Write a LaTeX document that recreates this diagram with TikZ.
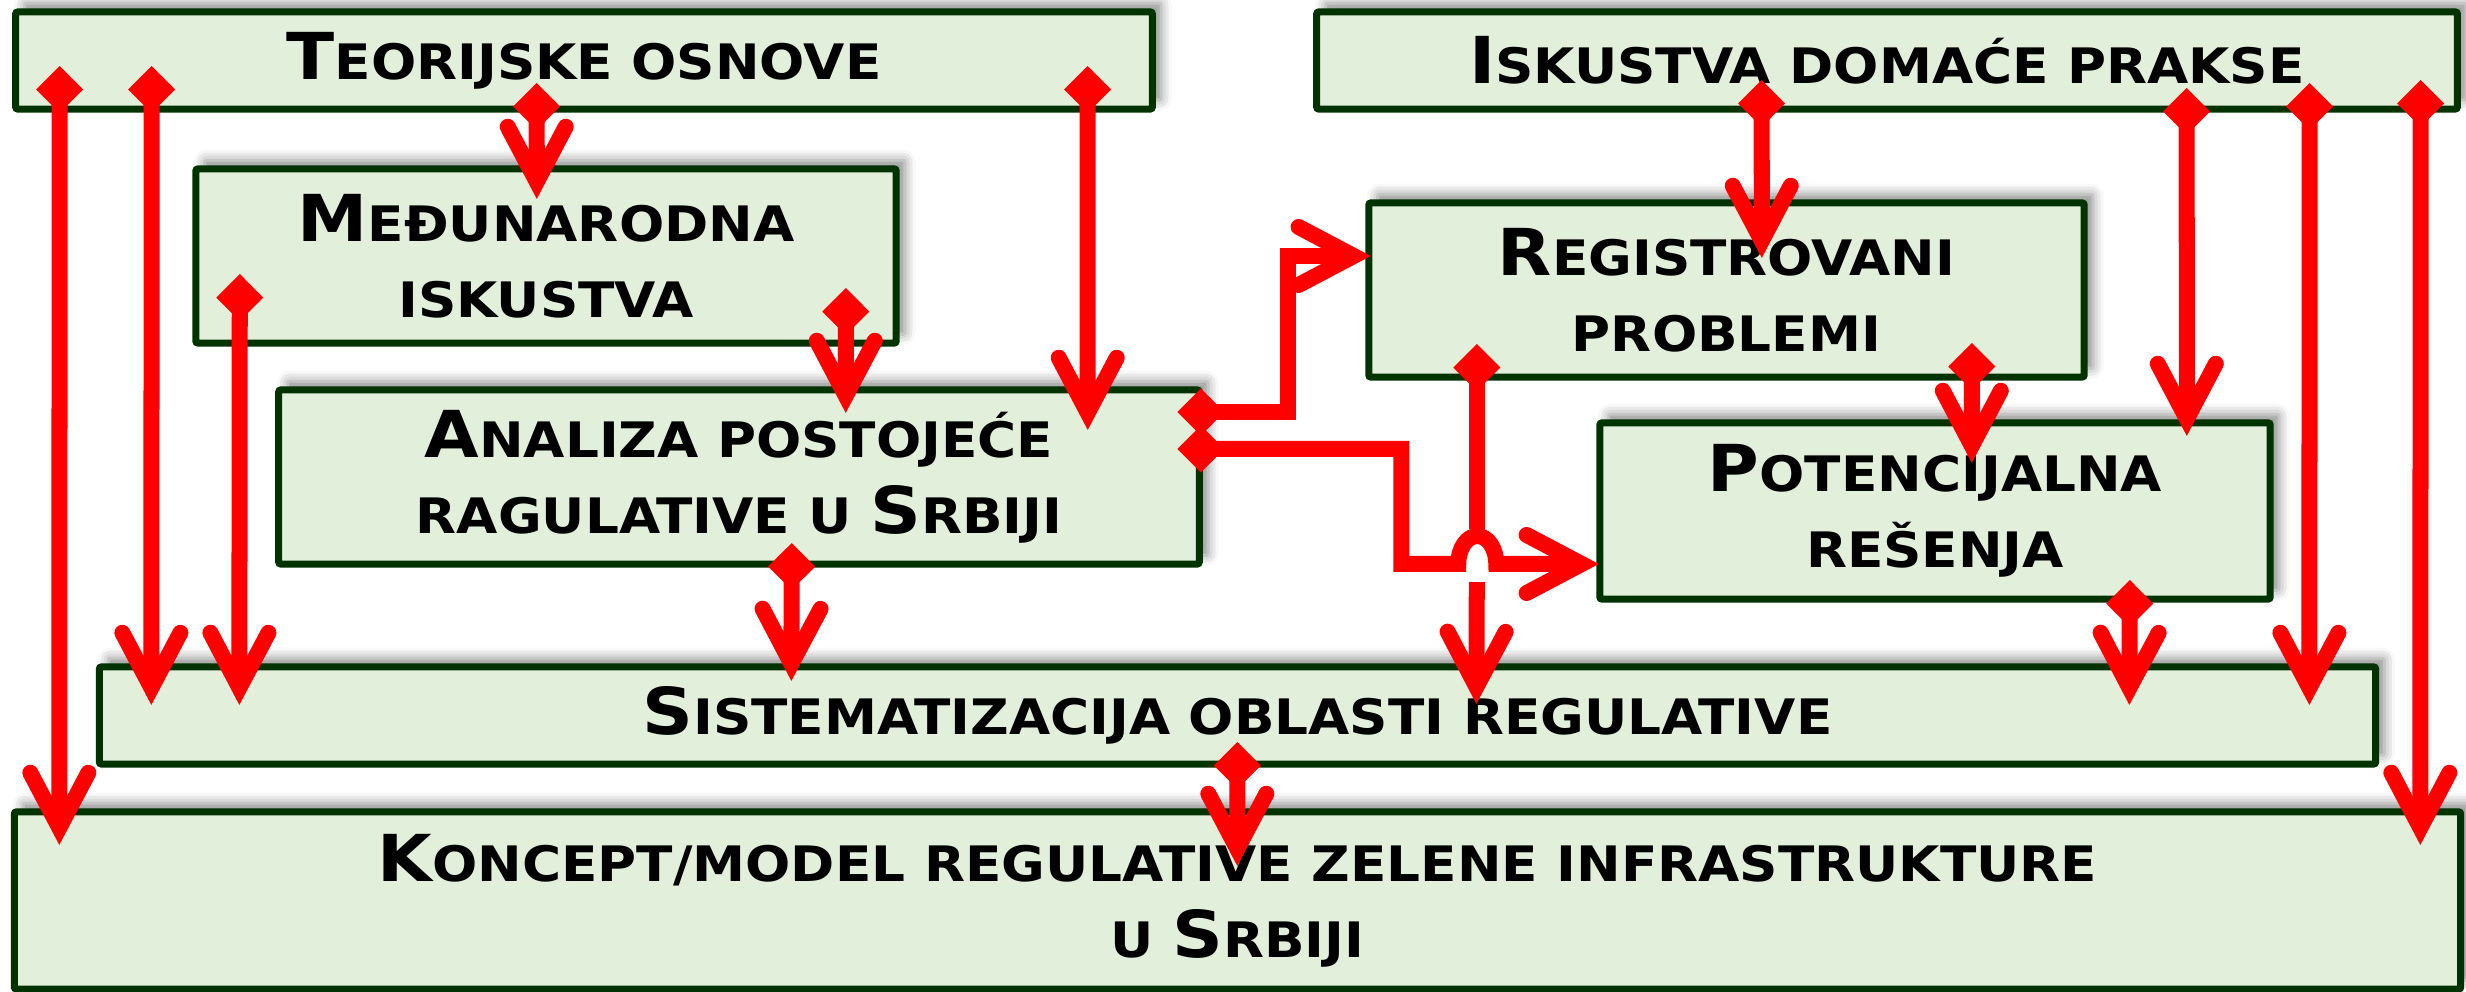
\documentclass[tikz,border=0pt]{standalone}
\usepackage{fontspec}
\newfontfamily\dvs{DejaVu Sans}[FakeStretch=1.09]
\usetikzlibrary{arrows.meta,calc,shadows.blur}
\definecolor{boxfill}{HTML}{E2EFDA}
\definecolor{boxline}{HTML}{003300}
\definecolor{conred}{HTML}{FF0000}
\newcommand\Bc[1]{{\fontsize{18.4pt}{21.6pt}\selectfont #1}}
\begin{document}
\begin{tikzpicture}[x=0.01cm, y=-0.01cm,
  box/.style={draw=boxline, fill=boxfill, line width=0.07cm, rounded corners=0.02cm,
    outer sep=0pt, inner sep=0pt, align=center,
    font=\dvs\bfseries\fontsize{13.9pt}{21.6pt}\selectfont,
    blur shadow={shadow xshift=2.5pt, shadow yshift=2.5pt, shadow blur radius=3pt, shadow opacity=45}},
  line/.style={draw=conred, line width=0.16cm},
  conn/.style={line,
    arrows={Diamond[length=0.47cm,width=0.47cm]-Straight Barb[length=0.55cm,width=0.58cm,line join=miter,line cap=round]}},
  connstart/.style={line, arrows={Diamond[length=0.47cm,width=0.47cm]-}},
  connend/.style={line, arrows={-Straight Barb[length=0.55cm,width=0.58cm,line join=miter,line cap=round]}}]
\useasboundingbox (0,0) rectangle (2466,992);
% boxes
\node[box, minimum width=11.36cm, minimum height=0.97cm] (A) at (584,60.5) {\Bc{T}EORIJSKE OSNOVE};
\node[box, minimum width=11.40cm, minimum height=0.97cm] (B) at (1887,60.5) {\Bc{I}SKUSTVA DOMAĆE PRAKSE};
\node[box, minimum width=7.00cm, minimum height=1.74cm] (C) at (546,256) {\Bc{M}EĐUNARODNA\\ISKUSTVA};
\node[box, minimum width=7.15cm, minimum height=1.74cm] (D) at (1726.5,290) {\Bc{R}EGISTROVANI\\PROBLEMI};
\node[box, minimum width=9.20cm, minimum height=1.74cm] (E) at (739,477) {\Bc{A}NALIZA POSTOJEĆE\\RAGULATIVE U \Bc{S}RBIJI};
\node[box, minimum width=6.70cm, minimum height=1.76cm] (F) at (1935,511) {\Bc{P}OTENCIJALNA\\REŠENJA};
\node[box, minimum width=22.75cm, minimum height=0.97cm] (G) at (1237.5,715.5) {\Bc{S}ISTEMATIZACIJA OBLASTI REGULATIVE};
\node[box, minimum width=24.45cm, minimum height=1.77cm] (H) at (1237.5,900.5) {\Bc{K}ONCEPT/MODEL REGULATIVE ZELENE INFRASTRUKTURE\\U \Bc{S}RBIJI};
% connectors
\draw[conn] ($(A.south west)+(44,-43)$) -- ($(H.north west)+(45,33)$);
\draw[conn] ($(A.south west)+(136,-43)$) -- ($(G.north west)+(52,38)$);
\draw[conn] ($(A.south west)+(1072,-43)$) -- ($(E.north west)+(809,40)$);
\draw[conn] ($(A.south west)+(521,-26)$) -- ($(C.north west)+(341,30)$);
\draw[conn] ($(C.south west)+(44,-69)$) -- ($(G.north west)+(140,38)$);
\draw[conn] ($(C.south west)+(650,-55)$) -- ($(E.north west)+(567,23)$);
\draw[conn] ($(B.south west)+(445,-29)$) -- ($(D.north west)+(393,55)$);
\draw[conn] ($(B.south west)+(870,-21)$) -- ($(F.north west)+(587,13)$);
\draw[conn] ($(B.south west)+(993,-26)$) -- ($(G.north west)+(2210,38)$);
\draw[conn] ($(B.south west)+(1104,-29)$) -- ($(H.north west)+(2406,33)$);
% D -> G, broken where the line jump passes
\draw[connstart] ($(D.south west)+(108,-33)$) -- ++(0,185) coordinate (jtop);
\draw[connend] ($(jtop)+(0,53)$) -- ($(G.north west)+(1377,37)$);
\draw[conn] ($(D.south west)+(603,-34)$) -- ($(F.north west)+(372,40)$);
\draw[conn] ($(E.east)+(-22,-65)$) -- ++(111,0) |- ($(D.west)+(2,-34)$);
\draw[conn] ($(E.east)+(-22,-28)$) -- ++(224,0) -- ++(0,115) -- ++(57,0)
  arc[start angle=180, end angle=0, x radius=0.19cm, y radius=0.28cm] -- ($(F.west)+(-1,53)$);
\draw[conn] ($(E.south west)+(513,-21)$) -- ($(G.north west)+(692,14)$);
\draw[conn] ($(F.south west)+(530,-19)$) -- ($(G.north west)+(2030,38)$);
\draw[conn] ($(G.south west)+(1138,-22)$) -- ($(H.north west)+(1223,54)$);
\end{tikzpicture}
\end{document}
